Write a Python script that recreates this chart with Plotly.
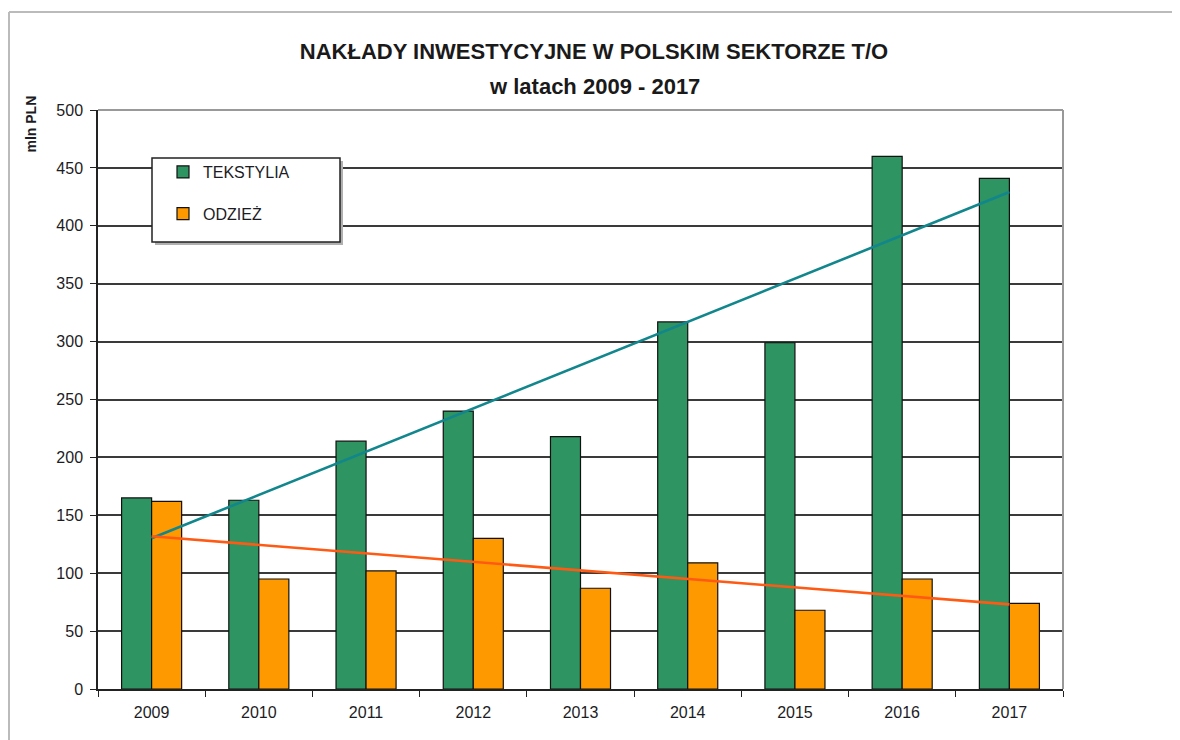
import numpy as np
import plotly.graph_objects as go

years = ["2009", "2010", "2011", "2012", "2013", "2014", "2015", "2016", "2017"]
tekstylia = [165, 163, 214, 240, 218, 317, 299, 460, 441]
odziez = [162, 95, 102, 130, 87, 109, 68, 95, 74]
y_ticks = [0, 50, 100, 150, 200, 250, 300, 350, 400, 450, 500]

GREEN = "#2E9461"
ORANGE = "#FF9900"
TEAL = "#11868C"
RED_OR = "#FF5A14"
FONT = "Liberation Sans, Arial, sans-serif"

# linear trend lines (as in the original spreadsheet chart)
idx = np.arange(len(years))
kt = np.polyfit(idx, tekstylia, 1)
ko = np.polyfit(idx, odziez, 1)
trend_t = list(np.polyval(kt, idx))
trend_o = list(np.polyval(ko, idx))

W, H = 1172, 732
L, T = 90, 102
PW, PH = 965, 579

fig = go.Figure()
fig.add_trace(go.Bar(x=years, y=tekstylia, name="TEKSTYLIA", legendgroup="a",
                     marker=dict(color=GREEN, line=dict(color="#111", width=1.2))))
fig.add_trace(go.Bar(x=years, y=odziez, name="ODZIEŻ", legendgroup="b",
                     marker=dict(color=ORANGE, line=dict(color="#111", width=1.2))))
fig.add_trace(go.Scatter(x=years, y=trend_t, mode="lines", showlegend=False,
                         line=dict(color=TEAL, width=2.6), hoverinfo="skip"))
fig.add_trace(go.Scatter(x=years, y=trend_o, mode="lines", showlegend=False,
                         line=dict(color=RED_OR, width=2.6), hoverinfo="skip"))


def px_x(p):
    return (p - 8 - L) / PW


def px_y(p):
    return 1 - (p - 8 - T) / PH


fig.update_layout(
    width=W, height=H,
    margin=dict(l=L, r=W - L - PW, t=T, b=H - T - PH, autoexpand=False),
    paper_bgcolor="white", plot_bgcolor="white",
    barmode="group", bargap=0.44, bargroupgap=0,
    font=dict(family=FONT, color="#1c1c24"),
    title=dict(text="<b>NAKŁADY INWESTYCYJNE W POLSKIM SEKTORZE T/O</b>",
               x=0.5, xanchor="center", y=1 - (51 - 8) / H, yanchor="middle",
               font=dict(family=FONT, size=22, color="#1a1a1a")),
    legend=dict(x=px_x(163), y=px_y(155), xanchor="left", yanchor="top",
                bgcolor="rgba(0,0,0,0)", borderwidth=0,
                font=dict(family=FONT, size=16, color="#1c1c24"),
                traceorder="grouped", tracegroupgap=18, itemwidth=30),
    showlegend=True,
)
fig.update_xaxes(type="category", showline=True, linecolor="#222", linewidth=1.5,
                 ticks="outside", tickson="boundaries", ticklen=6, tickcolor="#222",
                 ticklabelstandoff=8,
                 tickfont=dict(family=FONT, size=16, color="#1c1c24"), showgrid=False)
fig.update_yaxes(range=[0, 500], tickvals=y_ticks, showline=True, linecolor="#222",
                 linewidth=1.5, ticks="outside", ticklen=6, tickcolor="#222",
                 ticklabelstandoff=4,
                 tickfont=dict(family=FONT, size=16, color="#1c1c24"),
                 showgrid=True, gridcolor="#3a3a3a", gridwidth=1.5, zeroline=False)

# second title line
fig.add_annotation(text="<b>w latach 2009 - 2017</b>", xref="paper", yref="paper",
                   x=0.5 * (W - 0) / PW - L / PW, y=px_y(86), xanchor="center", yanchor="middle",
                   showarrow=False, font=dict(family=FONT, size=22, color="#1a1a1a"))

# plot-area border (top and right)
fig.add_shape(type="line", xref="paper", yref="paper", x0=0, x1=1, y0=1, y1=1,
              line=dict(color="#999", width=2), layer="above")
fig.add_shape(type="line", xref="paper", yref="paper", x0=1, x1=1, y0=0, y1=1,
              line=dict(color="#999", width=2), layer="above")
# legend box with slight shadow
fig.add_shape(type="rect", xref="paper", yref="paper",
              x0=px_x(155), x1=px_x(343), y0=px_y(245), y1=px_y(161),
              line=dict(width=0), fillcolor="#b0b0b0", layer="above")
fig.add_shape(type="rect", xref="paper", yref="paper",
              x0=px_x(152), x1=px_x(340), y0=px_y(242), y1=px_y(158),
              line=dict(color="#222", width=1.5), fillcolor="white", layer="above")
# outer chart frame (partially visible in the original)
fig.add_shape(type="line", xref="paper", yref="paper", x0=px_x(9), x1=1.3, y0=px_y(12), y1=px_y(12),
              line=dict(color="#bbb", width=2), layer="above")
fig.add_shape(type="line", xref="paper", yref="paper", x0=px_x(9), x1=px_x(9), y0=-0.2, y1=px_y(12),
              line=dict(color="#bbb", width=2), layer="above")

fig.add_annotation(text="<b>mln PLN</b>", xref="paper", yref="paper", x=px_x(30), y=px_y(94),
                   xanchor="center", yanchor="top", textangle=-90, showarrow=False,
                   font=dict(family=FONT, size=14, color="#1c1c24"))

fig.write_html("out.html")
